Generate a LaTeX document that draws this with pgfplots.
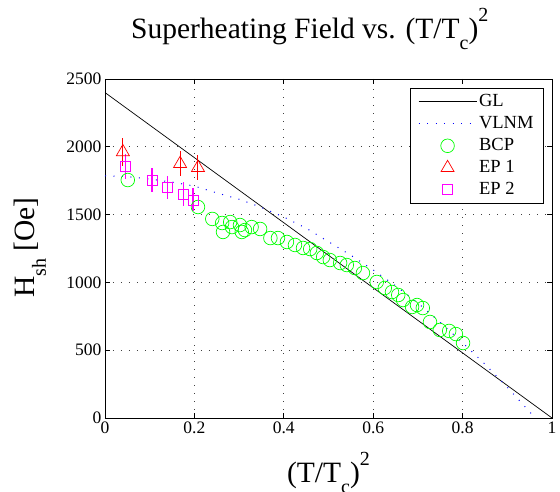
\documentclass[border=0pt]{standalone}
\usepackage{pgfplots}
\pgfplotsset{compat=1.18}
\usepackage{fontspec}
\setmainfont{Liberation Serif}

\definecolor{mred}{rgb}{1,0,0}
\definecolor{mgreen}{rgb}{0,1,0}
\definecolor{mblue}{rgb}{0,0,1}
\definecolor{mmag}{rgb}{1,0,1}

% MATLAB-like sub/superscripts
\newcommand{\lsub}[1]{\raisebox{-11pt}{\fontsize{20}{20}\selectfont #1}}
\newcommand{\lsup}[1]{\raisebox{17pt}{\fontsize{20}{20}\selectfont #1}}

\pgfplotsset{
  legimg/.style={legend image code/.code={%
    \draw[mark repeat=2,mark phase=2,##1] plot coordinates {(0pt,0pt) (29pt,0pt) (58pt,0pt)};}},
}

\begin{document}
\begin{tikzpicture}
\begin{axis}[
    scale only axis,
    width=447pt, height=339pt,
    xmin=0, xmax=1, ymin=0, ymax=2500,
    xtick={0,0.2,0.4,0.6,0.8,1},
    ytick={0,500,1000,1500,2000,2500},
    /pgf/number format/1000 sep={},
    /pgf/number format/assume math mode=true,
    tick label style={font=\fontsize{17.5}{20}\selectfont},
    tick align=inside,
    major tick length=5pt,
    tick style={black, line width=0.6pt},
    axis line style={black, line width=0.8pt},
    grid=major,
    grid style={black!75, line width=0.7pt, dash pattern=on 0.7pt off 7.3pt},
    title={Superheating Field vs. (T/T\lsub{c})\lsup{2}},
    title style={font=\fontsize{29.5}{32}\selectfont, at={(axis description cs:0.058,1.103)}, anchor=base west, inner sep=0pt},
    xlabel={(T/T\lsub{c})\lsup{2}},
    xlabel style={font=\fontsize{29.5}{32}\selectfont, at={(axis description cs:0.407,-0.189)}, anchor=base west, inner sep=0pt},
    ylabel={H\lsub{sh} [Oe]},
    ylabel style={font=\fontsize{29.5}{32}\selectfont, at={(axis description cs:-0.157,0.354)}, anchor=base west, inner sep=0pt},
    legend style={at={(axis description cs:0.982,0.973)}, anchor=north east,
      draw=black, line width=0.8pt, inner xsep=8pt, inner ysep=3pt,
      font=\fontsize{18.5}{21}\selectfont, row sep=1.5pt,
      nodes={text height=12.5pt, text depth=4pt, inner sep=2pt}},
    legend cell align=left,
]
% GL
\addplot[black, line width=0.7pt, legimg] coordinates {(0,2400) (1,0)};
\addlegendentry{GL}
% VLNM
\addplot[mblue, line width=1pt, dash pattern=on 1pt off 7.5pt, legimg] coordinates {
  (0,1785) (0.05,1780) (0.1,1762) (0.15,1740) (0.2,1710) (0.25,1660)
  (0.3,1613) (0.35,1553) (0.4,1482) (0.45,1400) (0.5,1300) (0.55,1200)
  (0.6,1092) (0.65,975) (0.7,848) (0.75,705) (0.8,555) (0.85,397)
  (0.9,227) (0.95,45) (0.962,0)};
\addlegendentry{VLNM}
% BCP
\addplot[only marks, mark=o, mark size=6.8pt, color=mgreen, line width=0.7pt, legimg] coordinates {
  (0.051,1755) (0.208,1556) (0.24,1468) (0.262,1438) (0.28,1445) (0.264,1372)
  (0.284,1408) (0.302,1423) (0.306,1372) (0.313,1386) (0.328,1408) (0.347,1394)
  (0.37,1327) (0.387,1327) (0.407,1298) (0.425,1276) (0.443,1254) (0.459,1246)
  (0.474,1217) (0.488,1187) (0.503,1165) (0.526,1143) (0.541,1128) (0.559,1106)
  (0.577,1069) (0.608,1003) (0.626,959) (0.642,929) (0.656,907) (0.667,870)
  (0.687,819) (0.698,833) (0.711,811) (0.727,708) (0.749,649) (0.77,642)
  (0.785,619) (0.801,553)};
\addlegendentry{BCP}
% EP 1
\addplot[only marks, mark=triangle, mark size=7.5pt, color=mred, line width=0.7pt, legimg,
  error bars/.cd, y dir=both, y explicit, error mark=none,
  error bar style={mred, line width=1pt}] coordinates {
  (0.04,1962) +- (0,100)
  (0.168,1875) +- (0,92)
  (0.208,1846) +- (0,90)};
\addlegendentry{EP 1}
% EP 2
\addplot[only marks, mark=square, mark size=5pt, color=mmag, line width=0.7pt, legimg,
  error bars/.cd, y dir=both, y explicit, error mark=none,
  error bar style={mmag, line width=1.2pt}] coordinates {
  (0.045,1858) +- (0,92)
  (0.105,1755) +- (0,88)
  (0.139,1698) +- (0,85)
  (0.175,1652) +- (0,90)
  (0.197,1608) +- (0,85)};
\addlegendentry{EP 2}
\end{axis}
\pgfresetboundingbox
\path[use as bounding box] (-105pt,-74pt) rectangle (455pt,418pt);
\end{tikzpicture}
\end{document}
